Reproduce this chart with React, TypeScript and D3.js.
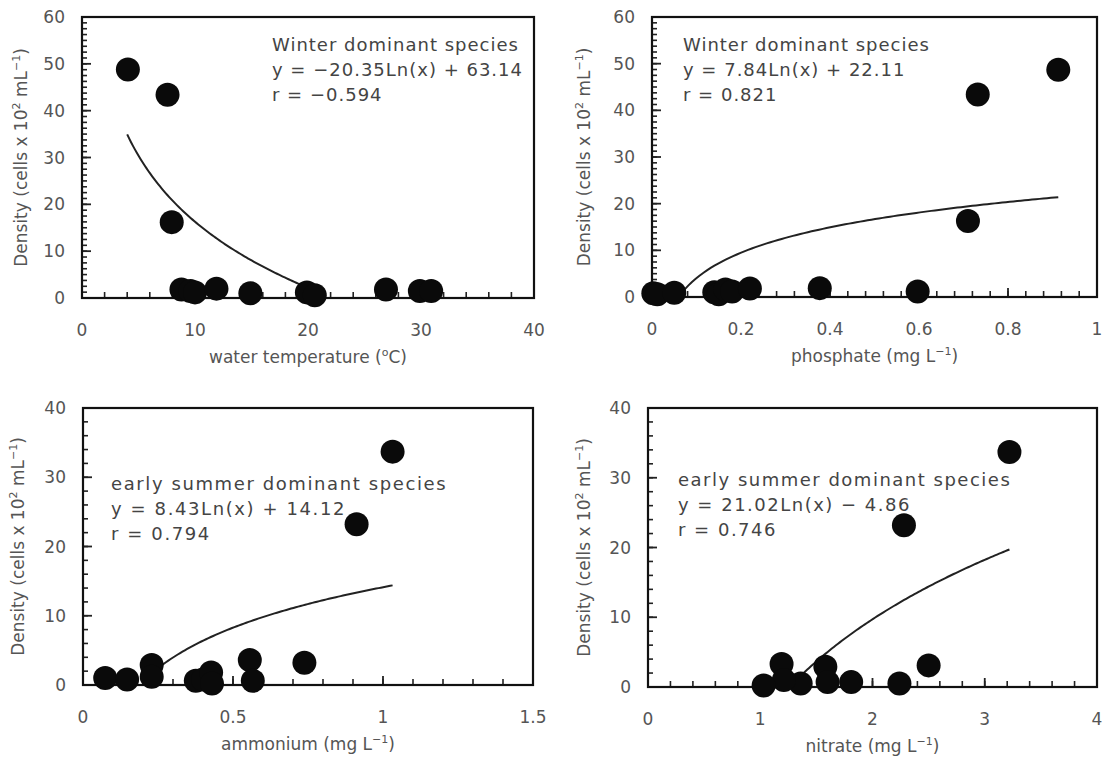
import React, { useEffect, useRef } from 'react';
import * as d3 from 'd3';

// winter dominant species: density vs water temperature
const tempX = [4.06, 7.57, 7.94, 8.8, 9.6, 10.0, 11.9, 14.9, 19.9, 20.6, 26.9, 29.9, 30.9];
const tempY = [48.8, 43.4, 16.2, 1.8, 1.5, 1.2, 2.0, 1.0, 1.2, 0.6, 1.8, 1.5, 1.5];

// winter dominant species: density vs phosphate
const phosX = [0.913, 0.732, 0.71, 0.003, 0.012, 0.05, 0.14, 0.15, 0.165, 0.18, 0.22, 0.377, 0.597];
const phosY = [48.7, 43.4, 16.3, 0.8, 0.6, 0.9, 1.0, 0.6, 1.6, 1.2, 1.8, 1.9, 1.2];

// early summer dominant species: density vs ammonium
const ammX = [1.032, 0.912, 0.738, 0.556, 0.566, 0.074, 0.147, 0.229, 0.229, 0.376, 0.4, 0.427, 0.43];
const ammY = [33.7, 23.2, 3.2, 3.6, 0.6, 1.0, 0.8, 2.9, 1.2, 0.6, 0.8, 1.8, 0.2];

// early summer dominant species: density vs nitrate
const nitX = [3.22, 2.28, 2.5, 2.24, 1.81, 1.58, 1.6, 1.36, 1.19, 1.21, 1.03];
const nitY = [33.7, 23.2, 3.1, 0.5, 0.7, 2.9, 0.7, 0.5, 3.3, 1.0, 0.2];

// log trend lines y = a*ln(x) + b
const trendSlope = [-20.35, 7.84, 8.43, 21.02];
const trendIntercept = [63.14, 22.11, 14.12, -4.86];
const trendFrom = [4.0, 0.073, 0.245, 1.38];
const trendTo = [21, 0.913, 1.032, 3.22];

const notes = [
  ['Winter dominant species', 'y = \u221220.35Ln(x) + 63.14', 'r = \u22120.594'],
  ['Winter dominant species', 'y = 7.84Ln(x) + 22.11', 'r = 0.821'],
  ['early summer dominant species', 'y = 8.43Ln(x) + 14.12', 'r = 0.794'],
  ['early summer dominant species', 'y = 21.02Ln(x) \u2212 4.86', 'r = 0.746'],
];

const xTitles = [
  [['water temperature (', false], ['o', true], ['C)', false]],
  [['phosphate (mg L', false], ['\u22121', true], [')', false]],
  [['ammonium (mg L', false], ['\u22121', true], [')', false]],
  [['nitrate (mg L', false], ['\u22121', true], [')', false]],
];
const yTitle = [['Density (cells x 10', false], ['2', true], [' mL', false], ['\u22121', true], [')', false]];

const xTickVals = [
  [0, 10, 20, 30, 40],
  [0, 0.2, 0.4, 0.6, 0.8, 1],
  [0, 0.5, 1, 1.5],
  [0, 1, 2, 3, 4],
];

const panels = [
  { xs: tempX, ys: tempY, l: 82, r: 534, t: 17, b: 298, xMax: 40, yMax: 60, xMinor: 2, yMinor: 1.25, tx: 272, ty: 51, ls: 1.0, ylx: 27 },
  { xs: phosX, ys: phosY, l: 652, r: 1097, t: 17, b: 297, xMax: 1, yMax: 60, xMinor: 0.04, yMinor: 1.25, tx: 683, ty: 51, ls: 1.0, ylx: 590 },
  { xs: ammX, ys: ammY, l: 83, r: 533, t: 408, b: 685, xMax: 1.5, yMax: 40, xMinor: 0.1, yMinor: 2, tx: 111, ty: 490, ls: 1.6, ylx: 24 },
  { xs: nitX, ys: nitY, l: 648, r: 1097, t: 408, b: 687, xMax: 4, yMax: 40, xMinor: 0.2, yMinor: 2, tx: 678, ty: 486, ls: 1.5, ylx: 590 },
];

const FONT = "'DejaVu Sans', sans-serif";

function rich(text, parts) {
  parts.forEach(([s, sup], i) => {
    const prevSup = i > 0 && parts[i - 1][1];
    const ts = text.append('tspan').text(s);
    if (sup) ts.attr('dy', -7).attr('font-size', 11);
    else if (prevSup) ts.attr('dy', 7);
  });
}

export default function App() {
  const ref = useRef(null);

  useEffect(() => {
    const svg = d3.select(ref.current);
    svg.selectAll('*').remove();

    panels.forEach((p, i) => {
      const x = d3.scaleLinear().domain([0, p.xMax]).range([p.l, p.r]);
      const y = d3.scaleLinear().domain([0, p.yMax]).range([p.b, p.t]);
      const g = svg.append('g');

      // minor ticks (inward)
      const eps = 1e-9;
      d3.range(0, p.xMax + eps, p.xMinor).forEach(v => {
        g.append('line').attr('x1', x(v)).attr('x2', x(v)).attr('y1', p.b).attr('y2', p.b - 6)
          .attr('stroke', '#222').attr('stroke-width', 1.6);
      });
      d3.range(0, p.yMax + eps, p.yMinor).forEach(v => {
        g.append('line').attr('x1', p.l).attr('x2', p.l + 5).attr('y1', y(v)).attr('y2', y(v))
          .attr('stroke', '#222').attr('stroke-width', 1.6);
      });
      // major ticks
      xTickVals[i].forEach(v => {
        g.append('line').attr('x1', x(v)).attr('x2', x(v)).attr('y1', p.b).attr('y2', p.b - 9)
          .attr('stroke', '#222').attr('stroke-width', 1.8);
      });
      y.ticks(p.yMax / 10).forEach(v => {
        g.append('line').attr('x1', p.l).attr('x2', p.l + 9).attr('y1', y(v)).attr('y2', y(v))
          .attr('stroke', '#222').attr('stroke-width', 1.8);
      });

      // frame
      g.append('rect').attr('x', p.l).attr('y', p.t).attr('width', p.r - p.l).attr('height', p.b - p.t)
        .attr('fill', 'none').attr('stroke', '#111').attr('stroke-width', 2.2);

      // tick labels
      g.selectAll('.xl').data(xTickVals[i]).join('text')
        .attr('x', d => x(d)).attr('y', p.b + 38)
        .attr('text-anchor', 'middle').attr('font-family', FONT).attr('font-size', 17).attr('fill', '#555')
        .text(d => d3.format('~g')(d));
      g.selectAll('.yl').data(y.ticks(p.yMax / 10)).join('text')
        .attr('x', p.l - 17).attr('y', d => y(d) + 6)
        .attr('text-anchor', 'end').attr('font-family', FONT).attr('font-size', 17).attr('fill', '#555')
        .text(d => d3.format('~g')(d));

      // axis titles
      const xt = g.append('text').attr('x', (p.l + p.r) / 2).attr('y', p.b + 65)
        .attr('text-anchor', 'middle').attr('font-family', FONT).attr('font-size', 17).attr('fill', '#555');
      rich(xt, xTitles[i]);
      const cy = (p.t + p.b) / 2;
      const yt = g.append('text').attr('transform', `translate(${p.ylx},${cy}) rotate(-90)`)
        .attr('text-anchor', 'middle').attr('font-family', FONT).attr('font-size', 17).attr('fill', '#555');
      rich(yt, yTitle);

      // trend line
      const xsLine = d3.range(0, 101).map(k => trendFrom[i] + (trendTo[i] - trendFrom[i]) * k / 100);
      const line = d3.line()
        .x(d => x(d))
        .y(d => y(trendSlope[i] * Math.log(d) + trendIntercept[i]))
        .curve(d3.curveLinear);
      g.append('path').datum(xsLine).attr('d', line)
        .attr('fill', 'none').attr('stroke', '#222').attr('stroke-width', 2);

      // points
      g.selectAll('circle').data(p.xs.map((v, k) => [v, p.ys[k]])).join('circle')
        .attr('cx', d => x(d[0])).attr('cy', d => y(d[1])).attr('r', 12)
        .attr('fill', '#0a0a0a');

      // annotation
      notes[i].forEach((s, k) => {
        g.append('text').attr('x', p.tx).attr('y', p.ty + k * 25)
          .attr('font-family', FONT).attr('font-size', 18).attr('letter-spacing', p.ls).attr('fill', '#444')
          .text(s);
      });
    });
  }, []);

  return (
    <svg ref={ref} width={1102} height={757}
      style={{ position: 'absolute', left: 0, top: 0, background: '#fff' }} />
  );
}
